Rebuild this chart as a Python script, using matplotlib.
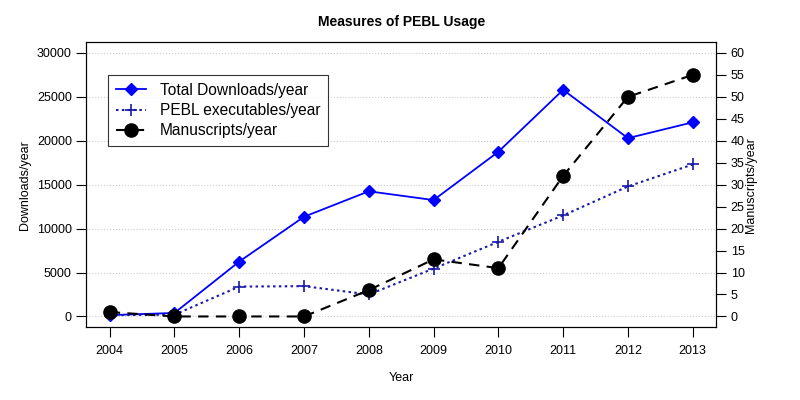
"""Recreate the 'Measures of PEBL Usage' chart with two y axes."""

import matplotlib
matplotlib.use("Agg")
import matplotlib.pyplot as plt

years = [2004, 2005, 2006, 2007, 2008, 2009, 2010, 2011, 2012, 2013]
downloads = [150, 400, 6250, 11350, 14250, 13250, 18750, 25800, 20300, 22100]
executables = [150, 200, 3400, 3450, 2500, 5450, 8500, 11500, 14800, 17300]
manuscripts = [1, 0, 0, 0, 6, 13, 11, 32, 50, 55]

left_ticks = [0, 5000, 10000, 15000, 20000, 25000, 30000]
right_ticks = list(range(0, 61, 5))

plt.rcParams["font.family"] = ["Liberation Sans", "DejaVu Sans"]


def main():
    fig = plt.figure(figsize=(8, 4), dpi=100)
    ax = fig.add_axes([0.108, 0.1825, 0.787, 0.7115])

    for t in left_ticks:
        ax.axhline(t, color="#cccccc", linestyle=":", linewidth=0.8, zorder=0)

    l1, = ax.plot(years, downloads, color="#0000ff", linewidth=1.3,
                  marker="D", markersize=6.5, label="Total Downloads/year")
    l2, = ax.plot(years, executables, color="#1a1aa8", linewidth=1.5,
                  linestyle=(0, (1.2, 1.6)), marker="+", markersize=9,
                  markeredgewidth=1.2, label="PEBL executables/year")

    ax.set_xlim(2003.64, 2013.36)
    ax.set_ylim(-1200, 31200)
    ax.set_xticks(years)
    ax.set_yticks(left_ticks)
    ax.tick_params(direction="out", length=7, labelsize=9, width=0.8)
    ax.tick_params(axis="x", pad=6)
    ax.set_xlabel("Year", fontsize=9, labelpad=11)
    ax.set_ylabel("Downloads/year", fontsize=9, labelpad=4)
    ax.set_title("Measures of PEBL Usage", fontsize=10, fontweight="bold", pad=12)

    ax2 = ax.twinx()
    l3, = ax2.plot(years, manuscripts, color="black", linewidth=1.5,
                   linestyle=(0, (5, 3.5)), marker="o", markersize=9.5,
                   label="Manuscripts/year")
    ax2.set_ylim(-2.4, 62.4)
    ax2.set_yticks(right_ticks)
    ax2.tick_params(direction="out", length=7, labelsize=9, width=0.8)
    ax2.set_ylabel("Manuscripts/year", fontsize=9, labelpad=0)

    for a in (ax, ax2):
        for s in a.spines.values():
            s.set_linewidth(0.8)

    leg = ax.legend(handles=[l1, l2, l3], loc="upper left",
                    bbox_to_anchor=(0.035, 0.885), fontsize=11.2,
                    frameon=True, fancybox=False, edgecolor="black",
                    borderpad=0.5, labelspacing=0.33, handlelength=1.9,
                    handletextpad=0.9, borderaxespad=0)
    leg.get_frame().set_linewidth(0.8)
    leg.set_zorder(5)

    fig.savefig("out.png", dpi=100)


if __name__ == "__main__":
    main()
